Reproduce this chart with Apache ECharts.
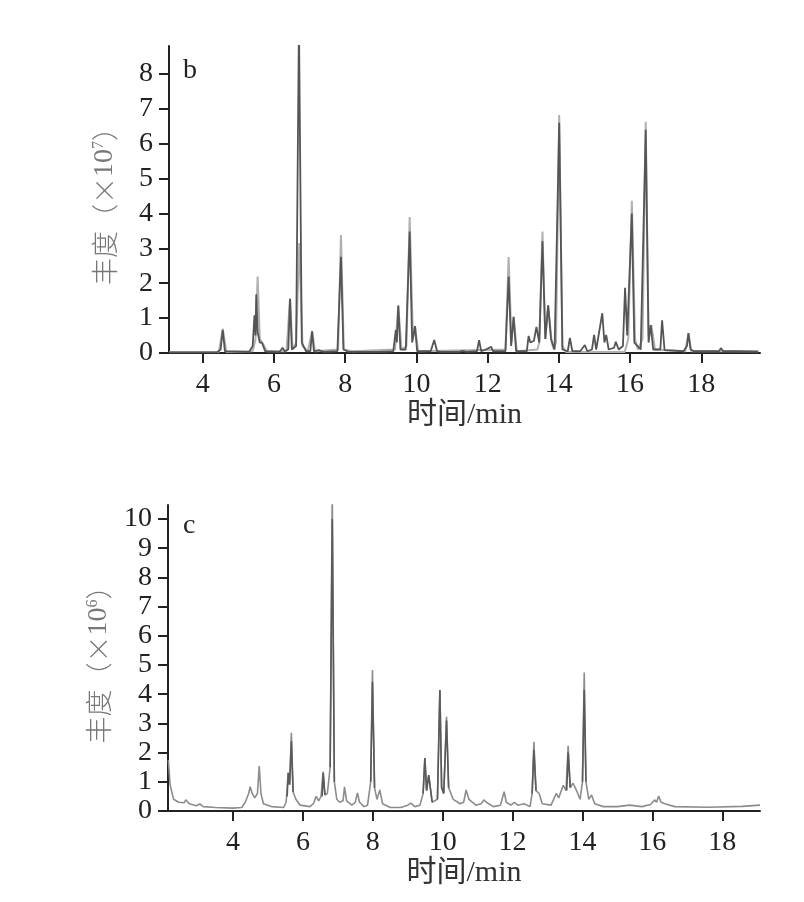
<!doctype html>
<html lang="zh-CN">
<head>
    <meta charset="utf-8">
    <title>总离子流色谱图</title>
    <script src="https://cdn.jsdelivr.net/npm/echarts@6/dist/echarts.min.js"></script>
    <style>html,body{margin:0;padding:0;background:#fff;}</style>
</head>
<body>
<div id="main" style="width:804px;height:902px;"></div>
<script>
    // 刻度
    var xTicksB = [4, 6, 8, 10, 12, 14, 16, 18];
    var yTicksB = [0, 1, 2, 3, 4, 5, 6, 7, 8];
    var xTicksC = [4, 6, 8, 10, 12, 14, 16, 18];
    var yTicksC = [0, 1, 2, 3, 4, 5, 6, 7, 8, 9, 10];

    // 图 b：[时间/min, 丰度 ×10^7]
    var bDark = [[3.05,0.02],[4.40,0.02],[4.50,0.1],[4.56,0.66],[4.62,0.05],
        [5.30,0.03],[5.40,0.2],[5.45,1.08],[5.48,0.5],[5.50,1.68],[5.54,0.6],[5.60,0.3],[5.66,0.3],[5.75,0.05],
        [6.15,0.03],[6.24,0.15],[6.30,0.05],[6.40,0.1],[6.45,1.55],[6.50,0.1],[6.62,0.2],[6.70,9.5],[6.78,0.3],
        [6.90,0.05],[7.02,0.05],[7.07,0.62],[7.12,0.05],[7.25,0.08],[7.40,0.03],
        [7.78,0.05],[7.88,2.76],[7.95,0.1],[8.10,0.03],
        [8.90,0.03],[8.95,0.08],[9.00,0.03],[9.35,0.05],[9.42,0.66],[9.45,0.3],[9.49,1.36],[9.55,0.1],
        [9.70,0.1],[9.81,3.48],[9.88,0.3],[9.96,0.77],[10.02,0.05],[10.40,0.05],[10.50,0.37],[10.58,0.05],
        [10.70,0.03],[11.20,0.03],[11.30,0.06],[11.40,0.03],[11.70,0.05],[11.76,0.37],[11.82,0.05],
        [11.95,0.1],[12.00,0.05],[12.10,0.18],[12.15,0.05],[12.50,0.05],[12.59,2.19],[12.66,0.2],
        [12.73,1.04],[12.80,0.05],[13.10,0.05],[13.15,0.49],[13.20,0.3],[13.30,0.35],[13.37,0.75],
        [13.45,0.3],[13.54,3.2],[13.62,0.4],[13.70,1.37],[13.78,0.4],[13.88,0.1],[14.01,6.6],[14.10,0.1],
        [14.25,0.05],[14.31,0.43],[14.38,0.05],[14.60,0.05],[14.73,0.23],[14.80,0.05],[14.93,0.1],
        [14.99,0.52],[15.05,0.1],[15.22,1.14],[15.28,0.3],[15.33,0.52],[15.40,0.1],[15.55,0.15],
        [15.60,0.32],[15.68,0.1],[15.80,0.2],[15.86,1.87],[15.92,0.5],[16.05,4.0],[16.12,0.3],[16.30,0.1],
        [16.44,6.4],[16.52,0.3],[16.58,0.8],[16.65,0.1],[16.85,0.1],[16.90,0.94],[16.97,0.08],[17.50,0.05],
        [17.60,0.2],[17.64,0.57],[17.70,0.1],[17.80,0.05],[18.50,0.05],[18.55,0.14],[18.62,0.05],
        [19.00,0.05],[19.60,0.04]];
    var bLight = [[3.05,0.03],[4.45,0.03],[4.56,0.7],[4.66,0.03],[5.40,0.05],[5.48,0.4],[5.54,2.19],
        [5.60,0.4],[5.70,0.25],[5.80,0.05],[6.35,0.05],[6.45,1.57],[6.52,0.1],[6.62,0.3],[6.71,3.15],
        [6.80,0.2],[6.95,0.05],[7.07,0.63],[7.15,0.05],[7.80,0.1],[7.88,3.38],[7.96,0.1],[8.20,0.05],
        [9.40,0.1],[9.49,1.36],[9.58,0.1],[9.72,0.2],[9.81,3.9],[9.90,0.4],[9.96,0.77],[10.05,0.05],
        [12.50,0.1],[12.59,2.75],[12.67,0.3],[12.73,1.04],[12.82,0.05],[13.40,0.1],[13.45,0.3],[13.54,3.48],
        [13.62,0.4],[13.70,1.37],[13.80,0.3],[13.86,0.1],[13.92,0.3],[14.01,6.82],[14.10,0.2],[14.20,0.03],
        [15.85,0.03],[15.95,0.4],[16.05,4.36],[16.14,0.4],[16.22,0.1],[16.35,0.4],[16.44,6.63],[16.52,0.5],
        [16.60,0.8],[16.70,0.1],[17.55,0.05],[17.64,0.57],[17.72,0.05],[19.60,0.05]];

    // 图 c：[时间/min, 丰度 ×10^6]
    var cMain = [[2.15,1.75],[2.20,0.9],[2.30,0.4],[2.45,0.3],[2.60,0.28],[2.65,0.38],[2.75,0.25],
        [2.95,0.18],[3.05,0.24],[3.15,0.15],[3.50,0.12],[4.00,0.1],[4.25,0.12],[4.35,0.3],[4.45,0.6],
        [4.49,0.83],[4.55,0.6],[4.62,0.45],[4.70,0.6],[4.75,1.54],[4.80,0.6],[4.87,0.25],[5.10,0.15],
        [5.45,0.12],[5.52,0.3],[5.58,1.31],[5.62,0.9],[5.67,2.68],[5.72,0.65],[5.80,0.4],[5.92,0.2],
        [6.20,0.15],[6.30,0.25],[6.38,0.5],[6.45,0.35],[6.52,0.5],[6.58,1.35],[6.63,0.55],[6.70,0.6],
        [6.78,1.5],[6.84,11],[6.90,1.0],[6.97,0.4],[7.05,0.3],[7.15,0.35],[7.19,0.83],[7.25,0.35],
        [7.40,0.2],[7.50,0.3],[7.56,0.62],[7.62,0.3],[7.75,0.15],[7.85,0.2],[7.94,1.0],[7.99,4.83],
        [8.05,0.8],[8.12,0.4],[8.20,0.72],[8.28,0.25],[8.50,0.12],[8.80,0.12],[9.00,0.2],[9.09,0.27],
        [9.20,0.15],[9.35,0.2],[9.44,0.6],[9.49,1.81],[9.54,0.7],[9.60,1.23],[9.70,0.3],[9.85,0.4],
        [9.92,4.14],[9.97,0.8],[10.03,0.6],[10.11,3.23],[10.17,0.8],[10.30,0.4],[10.50,0.25],[10.60,0.3],
        [10.67,0.72],[10.75,0.4],[10.95,0.2],[11.10,0.25],[11.18,0.38],[11.25,0.3],[11.45,0.15],
        [11.65,0.2],[11.76,0.66],[11.82,0.3],[11.95,0.2],[12.05,0.3],[12.15,0.2],[12.33,0.25],[12.50,0.15],
        [12.56,0.6],[12.61,2.37],[12.67,0.7],[12.76,0.6],[12.85,0.25],[13.10,0.2],[13.25,0.6],[13.32,0.45],
        [13.45,0.88],[13.53,0.7],[13.59,2.23],[13.65,0.8],[13.73,0.95],[13.83,0.7],[13.93,0.4],[14.00,1.0],
        [14.05,4.74],[14.10,1.0],[14.18,0.4],[14.26,0.55],[14.35,0.25],[14.60,0.15],[15.00,0.15],
        [15.35,0.2],[15.70,0.15],[15.95,0.22],[16.07,0.38],[16.12,0.3],[16.18,0.51],[16.25,0.3],
        [16.36,0.25],[16.64,0.15],[17.60,0.13],[18.57,0.16],[19.08,0.2]];
    // 深色峰（叠加在主曲线上）
    var cDarkPeaks = [
        [[5.55,0.5],[5.58,1.31],[5.62,0.9],[5.67,2.4],[5.72,0.65]],
        [[6.55,0.5],[6.58,1.3],[6.63,0.55]],
        [[6.78,1.5],[6.84,10.0],[6.90,1.0]],
        [[7.94,1.0],[7.99,4.43],[8.05,0.8]],
        [[9.44,0.6],[9.49,1.81],[9.54,0.7],[9.60,1.23],[9.70,0.3]],
        [[9.85,0.4],[9.92,4.14],[9.97,0.8],[10.03,0.6],[10.11,3.1],[10.17,0.8]],
        [[12.56,0.6],[12.61,2.09],[12.67,0.7]],
        [[13.55,0.7],[13.59,2.0],[13.65,0.8]],
        [[14.00,1.0],[14.05,4.14],[14.10,1.0]]
    ];

    var cDark = [];
    cDarkPeaks.forEach(function (seg) {
        seg.forEach(function (p) { cDark.push(p); });
        cDark.push([seg[seg.length - 1][0], '-']);
    });

    var serif = "'Liberation Serif', 'Noto Sans CJK SC', serif";
    var cjk = "'Noto Sans CJK SC', 'Liberation Serif', sans-serif";
    var axisLine = { lineStyle: { color: '#222', width: 2 } };

    function xAxis(idx, min, max, ticks, gap) {
        return {
            type: 'value', gridIndex: idx, min: min, max: max,
            name: '时间/min', nameLocation: 'middle', nameGap: gap,
            nameTextStyle: { fontFamily: serif, fontSize: 30, color: '#333' },
            axisLine: axisLine,
            axisTick: { inside: false, length: 10, lineStyle: { color: '#222', width: 2 }, customValues: ticks },
            axisLabel: { margin: 18, fontFamily: serif, fontSize: 28, color: '#222', customValues: ticks },
            splitLine: { show: false }
        };
    }

    function yAxis(idx, max, ticks, exp) {
        return {
            type: 'value', gridIndex: idx, min: 0, max: max,
            name: '丰度（×{n|10}{sup|' + exp + '}）', nameLocation: 'middle', nameGap: 50,
            nameTextStyle: {
                fontFamily: cjk, fontSize: 27, fontWeight: 300, color: '#777',
                rich: {
                    n: { fontFamily: serif, fontSize: 28, color: '#777' },
                    sup: { fontFamily: serif, fontSize: 16, color: '#777', verticalAlign: 'top' }
                }
            },
            axisLine: axisLine,
            axisTick: { inside: false, length: 10, lineStyle: { color: '#222', width: 2 }, customValues: ticks },
            axisLabel: { margin: 16, fontFamily: serif, fontSize: 28, color: '#222', customValues: ticks },
            splitLine: { show: false }
        };
    }

    function line(idx, data, color, width, z) {
        return {
            type: 'line', xAxisIndex: idx, yAxisIndex: idx, data: data,
            symbol: 'none', clip: true, z: z,
            lineStyle: { color: color, width: width }
        };
    }

    echarts.init(document.getElementById('main')).setOption({
        animation: false,
        backgroundColor: '#fff',
        grid: [
            { left: 169, right: 44, top: 46, height: 307 },
            { left: 168, right: 44, top: 505, height: 306 }
        ],
        xAxis: [xAxis(0, 3.05, 19.65, xTicksB, 42), xAxis(1, 2.14, 19.08, xTicksC, 40)],
        yAxis: [yAxis(0, 8.8, yTicksB, 7), yAxis(1, 10.48, yTicksC, 6)],
        graphic: [
            { type: 'text', left: 183, top: 57, style: { text: 'b', font: '28px ' + serif, fill: '#222' } },
            { type: 'text', left: 183, top: 512, style: { text: 'c', font: '28px ' + serif, fill: '#222' } }
        ],
        series: [
            line(0, bLight, '#b0b0b0', 2, 2),
            line(0, bDark, '#555', 1.8, 3),
            line(1, cMain, '#8c8c8c', 1.6, 2),
            line(1, cDark, '#5a5a5a', 1.6, 3)
        ]
    });
</script>
</body>
</html>
